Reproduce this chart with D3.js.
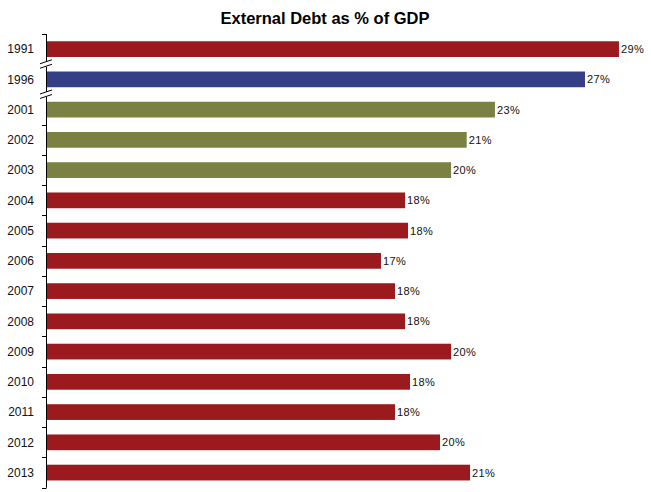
<!DOCTYPE html>
<html>
<head>
<meta charset="utf-8">
<script src="https://cdn.jsdelivr.net/npm/d3@7"></script>
<style>
  html, body { margin: 0; padding: 0; background: #fff; }
  svg { display: block; }
</style>
</head>
<body>
<svg id="chart" width="651" height="492"></svg>
<script>
// ---- data ----
const title = "External Debt as % of GDP";
const years = ["1991","1996","2001","2002","2003","2004","2005","2006","2007","2008","2009","2010","2011","2012","2013"];
const debtPct = [28.96,27.24,22.68,21.25,20.46,18.13,18.28,16.91,17.62,18.13,20.46,18.38,17.62,19.90,21.42];
const period = ["A","B","C","C","C","A","A","A","A","A","A","A","A","A","A"];
const breaksAfter = ["1991","1996"];

// ---- styles ----
const colors = { A: "#9b1a1d", B: "#353f86", C: "#7a8143" };
const W = 651, H = 492;
const margin = { top: 34, left: 46, bottom: 4.3 };

const svg = d3.select("#chart");

const y = d3.scaleBand()
  .domain(years)
  .range([margin.top, H - margin.bottom])
  .paddingInner(0.48)
  .paddingOuter(0.24);

const x = d3.scaleLinear().domain([0, 30]).range([margin.left + 1, margin.left + 1 + 30 * 19.75]);

// title
svg.append("text")
  .attr("x", 325).attr("y", 24)
  .attr("text-anchor", "middle")
  .attr("font-family", "Arial, 'Liberation Sans', sans-serif")
  .attr("font-weight", "bold")
  .attr("font-size", 16.5)
  .attr("fill", "#000")
  .text(title);

// bars
const data = years.map((yr, i) => ({ yr, v: debtPct[i], p: period[i] }));
svg.append("g").selectAll("rect").data(data).join("rect")
  .attr("x", x(0))
  .attr("y", d => y(d.yr))
  .attr("width", d => x(d.v) - x(0))
  .attr("height", y.bandwidth())
  .attr("fill", d => colors[d.p]);

// value labels
svg.append("g").selectAll("text").data(data).join("text")
  .attr("x", d => x(d.v) + 2)
  .attr("y", d => y(d.yr) + y.bandwidth() / 2)
  .attr("dy", "0.36em")
  .attr("font-family", "Arial, 'Liberation Sans', sans-serif")
  .attr("font-size", 11)
  .attr("letter-spacing", 0.4)
  .attr("fill", "#111")
  .text(d => d3.format(".0f")(d.v) + "%");

// axis (custom, with breaks)
const step = y.step();
const top0 = margin.top, bot0 = H - margin.bottom;
const boundaries = d3.range(years.length + 1).map(i => top0 + i * step);
const breakYs = breaksAfter.map(yr => y(yr) - y.paddingOuter() * step + step);

const ax = svg.append("g").attr("stroke", "#000").attr("stroke-width", 1).attr("fill", "none");
// axis line segments
let segs = [];
let start = top0;
breakYs.forEach(b => { segs.push([start, b - 2.5]); start = b + 2.5; });
segs.push([start, bot0]);
segs.forEach(s => ax.append("line").attr("x1", 46.5).attr("x2", 46.5).attr("y1", s[0]).attr("y2", s[1]));
// ticks
boundaries.forEach(b => {
  if (breakYs.some(k => Math.abs(k - b) < 1)) return;
  ax.append("line").attr("x1", 42).attr("x2", 46.5).attr("y1", Math.round(b) + 0.5).attr("y2", Math.round(b) + 0.5);
});
// break marks
breakYs.forEach(b => {
  ax.append("line").attr("x1", 40).attr("y1", b - 0.5).attr("x2", 52).attr("y2", b - 4.5);
  ax.append("line").attr("x1", 40).attr("y1", b + 4).attr("x2", 52).attr("y2", b);
});

// category labels
svg.append("g").selectAll("text").data(years).join("text")
  .attr("x", 34)
  .attr("y", d => y(d) + y.bandwidth() / 2)
  .attr("dy", "0.36em")
  .attr("text-anchor", "end")
  .attr("font-family", "Arial, 'Liberation Sans', sans-serif")
  .attr("font-size", 12)
  .attr("fill", "#111")
  .text(d => d);
</script>
</body>
</html>
